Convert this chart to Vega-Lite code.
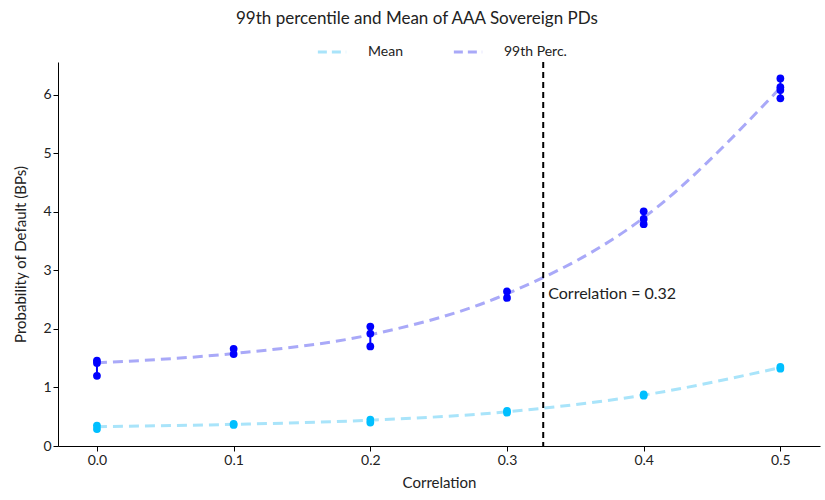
{
  "$schema": "https://vega.github.io/schema/vega-lite/v6.json",
  "autosize": "none",
  "width": 762,
  "height": 384,
  "padding": {"left": 58, "top": 62, "right": 5, "bottom": 54},
  "background": "white",
  "config": {
    "font": "Lato",
    "view": {"stroke": null},
    "axis": {"grid": false, "domainColor": "#000", "tickColor": "#000", "labelColor": "#222", "titleColor": "#222", "labelFontSize": 14, "titleFontSize": 15, "titleFontWeight": "normal", "labelFont": "Lato", "titleFont": "Lato", "tickSize": 5, "domainWidth": 1}
  },
  "title": {"text": "99th percentile and Mean of AAA Sovereign PDs", "fontSize": 17, "fontWeight": "normal", "color": "#222", "anchor": "middle", "frame": "bounds", "offset": 8, "font": "Lato"},
  "datasets": {
    "pts": [
      {"series": "99th Perc.", "corr": 0.0, "value": 1.46},
      {"series": "99th Perc.", "corr": 0.0, "value": 1.42},
      {"series": "99th Perc.", "corr": 0.0, "value": 1.20},
      {"series": "99th Perc.", "corr": 0.1, "value": 1.66},
      {"series": "99th Perc.", "corr": 0.1, "value": 1.57},
      {"series": "99th Perc.", "corr": 0.2, "value": 2.04},
      {"series": "99th Perc.", "corr": 0.2, "value": 1.92},
      {"series": "99th Perc.", "corr": 0.2, "value": 1.70},
      {"series": "99th Perc.", "corr": 0.3, "value": 2.64},
      {"series": "99th Perc.", "corr": 0.3, "value": 2.53},
      {"series": "99th Perc.", "corr": 0.4, "value": 4.01},
      {"series": "99th Perc.", "corr": 0.4, "value": 3.88},
      {"series": "99th Perc.", "corr": 0.4, "value": 3.79},
      {"series": "99th Perc.", "corr": 0.5, "value": 6.28},
      {"series": "99th Perc.", "corr": 0.5, "value": 6.13},
      {"series": "99th Perc.", "corr": 0.5, "value": 6.08},
      {"series": "99th Perc.", "corr": 0.5, "value": 5.94},
      {"series": "Mean", "corr": 0.0, "value": 0.35},
      {"series": "Mean", "corr": 0.0, "value": 0.29},
      {"series": "Mean", "corr": 0.1, "value": 0.38},
      {"series": "Mean", "corr": 0.1, "value": 0.36},
      {"series": "Mean", "corr": 0.2, "value": 0.45},
      {"series": "Mean", "corr": 0.2, "value": 0.40},
      {"series": "Mean", "corr": 0.3, "value": 0.60},
      {"series": "Mean", "corr": 0.3, "value": 0.57},
      {"series": "Mean", "corr": 0.4, "value": 0.88},
      {"series": "Mean", "corr": 0.4, "value": 0.86},
      {"series": "Mean", "corr": 0.5, "value": 1.35},
      {"series": "Mean", "corr": 0.5, "value": 1.32}
    ],
    "fit": [
      {"series": "Mean", "corr": 0.0, "value": 0.33},
      {"series": "Mean", "corr": 0.1, "value": 0.37},
      {"series": "Mean", "corr": 0.2, "value": 0.44},
      {"series": "Mean", "corr": 0.3, "value": 0.585},
      {"series": "Mean", "corr": 0.4, "value": 0.87},
      {"series": "Mean", "corr": 0.5, "value": 1.34},
      {"series": "99th Perc.", "corr": 0.0, "value": 1.42},
      {"series": "99th Perc.", "corr": 0.1, "value": 1.58},
      {"series": "99th Perc.", "corr": 0.2, "value": 1.90},
      {"series": "99th Perc.", "corr": 0.3, "value": 2.60},
      {"series": "99th Perc.", "corr": 0.4, "value": 3.90},
      {"series": "99th Perc.", "corr": 0.5, "value": 6.12}
    ],
    "ref": [{"corr": 0.3265, "value": 2.6, "label": "Correlation = 0.32"}]
  },
  "layer": [
    {
      "data": {"name": "fit"},
      "mark": {"type": "line", "strokeWidth": 3, "strokeDash": [10, 6], "interpolate": "monotone"},
      "encoding": {
        "x": {"field": "corr", "type": "quantitative", "scale": {"domain": [-0.0285, 0.529], "nice": false, "zero": false}, "axis": {"values": [0, 0.1, 0.2, 0.3, 0.4, 0.5], "format": ".1f", "title": "Correlation", "titlePadding": 8}},
        "y": {"field": "value", "type": "quantitative", "scale": {"domain": [0, 6.56], "nice": false}, "axis": {"values": [0, 1, 2, 3, 4, 5, 6], "format": "d", "title": "Probability of Default (BPs)", "titlePadding": 14}},
        "color": {"field": "series", "type": "nominal", "scale": {"domain": ["Mean", "99th Perc."], "range": ["#a9e4fa", "#a9a9f8"]}, "legend": {"orient": "none", "legendX": 258, "legendY": -26, "direction": "horizontal", "title": null, "symbolType": "stroke", "symbolStrokeWidth": 3, "symbolDash": [9, 5], "symbolSize": 800, "labelFontSize": 14, "labelColor": "#222", "labelFont": "Lato", "labelOffset": 20, "columnPadding": 44}}
      }
    },
    {
      "data": {"name": "pts"},
      "mark": {"type": "rule", "strokeWidth": 2},
      "encoding": {
        "x": {"field": "corr", "type": "quantitative"},
        "y": {"aggregate": "min", "field": "value", "type": "quantitative"},
        "y2": {"aggregate": "max", "field": "value"},
        "detail": {"field": "series"},
        "color": {"field": "series", "type": "nominal", "scale": {"domain": ["Mean", "99th Perc."], "range": ["#00bfff", "#0000ff"]}, "legend": null}
      }
    },
    {
      "data": {"name": "pts"},
      "mark": {"type": "circle", "size": 60, "opacity": 1},
      "encoding": {
        "x": {"field": "corr", "type": "quantitative"},
        "y": {"field": "value", "type": "quantitative"},
        "color": {"field": "series", "type": "nominal", "scale": {"domain": ["Mean", "99th Perc."], "range": ["#00bfff", "#0000ff"]}, "legend": null}
      }
    },
    {
      "data": {"name": "ref"},
      "mark": {"type": "rule", "color": "#000", "strokeWidth": 2, "strokeDash": [6, 4]},
      "encoding": {"x": {"field": "corr", "type": "quantitative"}}
    },
    {
      "data": {"name": "ref"},
      "mark": {"type": "text", "align": "left", "baseline": "middle", "dx": 5, "fontSize": 16, "color": "#222", "font": "Lato"},
      "encoding": {
        "x": {"field": "corr", "type": "quantitative"},
        "y": {"field": "value", "type": "quantitative"},
        "text": {"field": "label"}
      }
    }
  ],
  "resolve": {"scale": {"color": "independent"}}
}
